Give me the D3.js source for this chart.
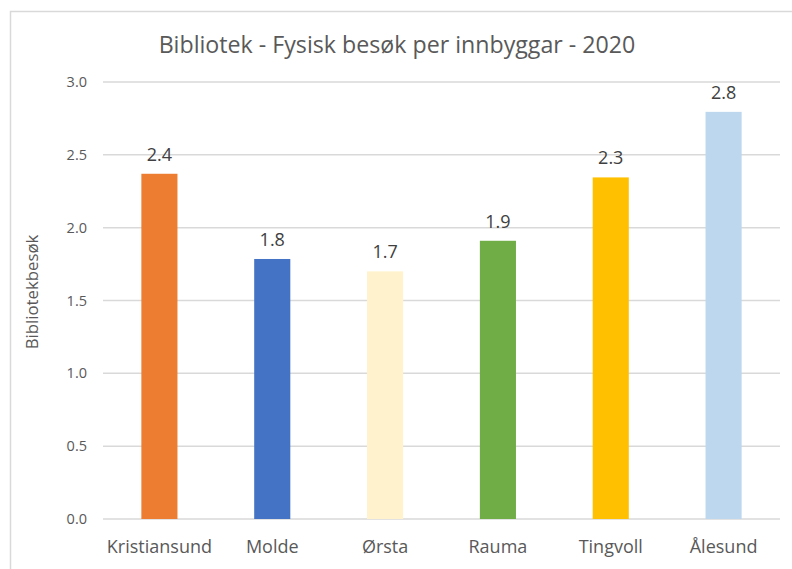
<!DOCTYPE html>
<html>
<head>
<meta charset="utf-8">
<script src="https://cdnjs.cloudflare.com/ajax/libs/d3/7.8.5/d3.min.js"></script>
<style>
  body { margin: 0; background: #fff; }
  text { font-family: "Open Sans", Lato, sans-serif; }
  .axis path, .axis line { display: none; }
  .grid line { stroke: #d9d9d9; stroke-width: 1.5; }
</style>
</head>
<body>
<div id="chart"></div>
<script>
  var categories = ["Kristiansund", "Molde", "Ørsta", "Rauma", "Tingvoll", "Ålesund"],
      values = [2.37, 1.785, 1.70, 1.91, 2.345, 2.795],
      labels = ["2.4", "1.8", "1.7", "1.9", "2.3", "2.8"],
      colors = ["#ed7d31", "#4472c4", "#fff2cc", "#70ad47", "#ffc000", "#bdd7ee"],
      yTicks = [0, 0.5, 1, 1.5, 2, 2.5, 3];

  var W = 792, H = 569,
      margin = {top: 82, right: 12, bottom: 50, left: 103},
      width = 780 - margin.left,
      height = 519 - margin.top;

  var svg = d3.select("#chart").append("svg")
      .attr("width", W)
      .attr("height", H);

  // frame
  svg.append("rect")
      .attr("x", 10.5).attr("y", 11.5)
      .attr("width", 800).attr("height", 600)
      .attr("fill", "none")
      .attr("stroke", "#d9d9d9")
      .attr("stroke-width", 1.5);

  svg.append("text")
      .attr("x", 397).attr("y", 53)
      .attr("text-anchor", "middle")
      .attr("fill", "#595959")
      .style("font-size", "23.2px")
      .text("Bibliotek - Fysisk besøk per innbyggar - 2020");

  var g = svg.append("g")
      .attr("transform", "translate(" + margin.left + "," + margin.top + ")");

  var x = d3.scaleBand()
      .domain(categories)
      .range([0, width])
      .paddingInner(0.68)
      .paddingOuter(0.34);

  var y = d3.scaleLinear()
      .domain([0, 3])
      .range([height, 0]);

  g.append("g")
      .attr("class", "grid")
      .selectAll("line")
      .data(yTicks)
      .enter().append("line")
      .attr("x1", 0).attr("x2", width)
      .attr("y1", function(d) { return y(d); })
      .attr("y2", function(d) { return y(d); });

  var yAxis = g.append("g")
      .attr("class", "axis")
      .call(d3.axisLeft(y).tickValues(yTicks).tickFormat(d3.format(".1f")).tickSize(0).tickPadding(16));
  yAxis.selectAll("text")
      .attr("fill", "#595959")
      .style("font-size", "14.5px")
      .style("font-family", "'Open Sans', sans-serif");

  var xAxis = g.append("g")
      .attr("class", "axis")
      .attr("transform", "translate(0," + height + ")")
      .call(d3.axisBottom(x).tickSize(0).tickPadding(21));
  xAxis.selectAll("text")
      .attr("fill", "#595959")
      .style("font-size", "18px")
      .style("font-family", "'Open Sans', sans-serif");

  g.selectAll(".bar")
      .data(categories)
      .enter().append("rect")
      .attr("class", "bar")
      .attr("x", function(d) { return x(d); })
      .attr("width", x.bandwidth())
      .attr("y", function(d, i) { return y(values[i]); })
      .attr("height", function(d, i) { return height - y(values[i]); })
      .attr("fill", function(d, i) { return colors[i]; });

  g.selectAll(".val")
      .data(categories)
      .enter().append("text")
      .attr("class", "val")
      .attr("x", function(d) { return x(d) + x.bandwidth() / 2; })
      .attr("y", function(d, i) { return y(values[i]) - 13; })
      .attr("text-anchor", "middle")
      .attr("fill", "#404040")
      .style("font-size", "18px")
      .text(function(d, i) { return labels[i]; });

  svg.append("text")
      .attr("transform", "translate(38,292) rotate(-90)")
      .attr("text-anchor", "middle")
      .attr("fill", "#595959")
      .style("font-size", "16.8px")
      .text("Bibliotekbesøk");
</script>
</body>
</html>
